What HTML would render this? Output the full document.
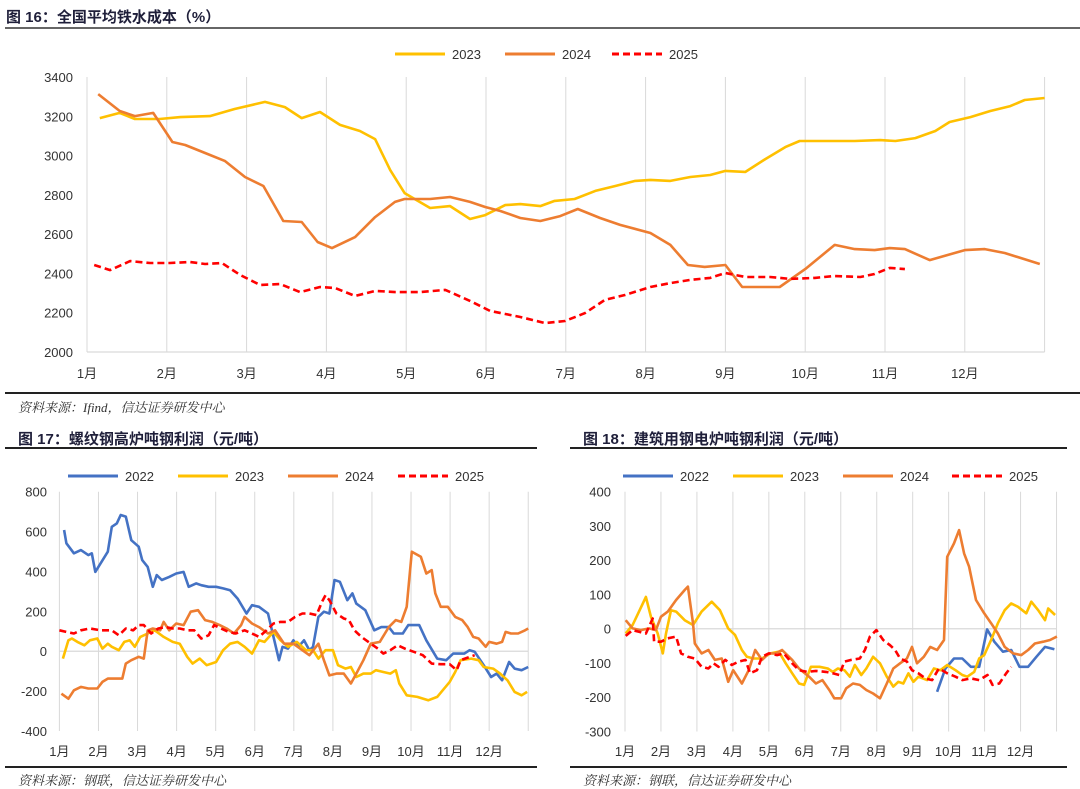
<!DOCTYPE html>
<html><head><meta charset="utf-8">
<style>
body{margin:0;width:1080px;height:787px;background:#fff;font-family:"Liberation Sans","Noto Sans CJK SC",sans-serif;overflow:hidden;position:relative}
.t{position:absolute;font-weight:bold;font-size:15px;color:#1f1f3a;white-space:nowrap}
.src{position:absolute;font-size:13px;font-style:italic;color:#333;font-family:"Liberation Serif","Noto Serif CJK SC",serif;white-space:nowrap}
.hl{position:absolute;height:2px}
svg{position:absolute;left:0;top:0}
</style></head><body>
<div class="t" style="left:6px;top:6px">图 16：全国平均铁水成本（%）</div>
<div class="hl" style="left:5px;top:27px;width:1075px;background:#666"></div>
<div class="hl" style="left:5px;top:392px;width:1075px;background:#222"></div>
<div class="src" style="left:18px;top:397px">资料来源：Ifind，信达证券研发中心</div>

<div class="t" style="left:18px;top:428px">图 17：螺纹钢高炉吨钢利润（元/吨）</div>
<div class="hl" style="left:5px;top:447px;width:532px;background:#222"></div>
<div class="hl" style="left:5px;top:766px;width:532px;background:#222"></div>
<div class="src" style="left:18px;top:770px">资料来源：钢联，信达证券研发中心</div>

<div class="t" style="left:583px;top:428px">图 18：建筑用钢电炉吨钢利润（元/吨）</div>
<div class="hl" style="left:570px;top:447px;width:497px;background:#222"></div>
<div class="hl" style="left:570px;top:766px;width:497px;background:#222"></div>
<div class="src" style="left:583px;top:770px">资料来源：钢联，信达证券研发中心</div>

<svg id="svg" width="1080" height="787"></svg>
<script>
const monthLabels=["1月","2月","3月","4月","5月","6月","7月","8月","9月","10月","11月","12月"];
// Chart 16
const c1Ticks=[2000,2200,2400,2600,2800,3000,3200,3400];
const c1_t2023=[0.16,0.41,0.60,0.91,1.17,1.54,1.85,2.23,2.48,2.69,2.92,3.17,3.42,3.61,3.80,3.98,4.30,4.55,4.80,4.99,5.24,5.43,5.68,5.86,6.11,6.37,6.62,6.87,7.06,7.31,7.56,7.81,8.00,8.25,8.50,8.75,8.93,9.31,9.62,9.94,10.13,10.38,10.63,10.81,11.07,11.32,11.57,11.75,12.0];
const c1_v2023=[3191,3217,3186,3186,3196,3201,3237,3273,3247,3191,3222,3156,3125,3084,2926,2809,2733,2743,2677,2697,2748,2753,2743,2769,2779,2820,2845,2871,2876,2871,2891,2901,2922,2917,2982,3043,3074,3074,3074,3079,3074,3089,3125,3171,3196,3227,3252,3283,3293];
const c1_t2024=[0.14,0.41,0.60,0.83,1.07,1.23,1.48,1.73,1.98,2.21,2.46,2.69,2.89,3.07,3.36,3.61,3.86,3.98,4.30,4.55,4.80,4.99,5.18,5.43,5.68,5.93,6.15,6.43,6.68,7.06,7.31,7.53,7.74,8.00,8.21,8.46,8.68,9.00,9.37,9.62,9.87,10.06,10.25,10.56,11.00,11.25,11.50,11.94];
const c1_v2024=[3313,3227,3201,3217,3069,3054,3013,2972,2891,2845,2667,2662,2560,2529,2585,2687,2764,2779,2779,2789,2764,2738,2718,2682,2667,2692,2728,2682,2647,2606,2545,2443,2433,2443,2331,2331,2331,2422,2545,2524,2519,2529,2524,2468,2519,2524,2504,2448];
const c1_t2025=[0.09,0.29,0.54,0.79,1.04,1.29,1.48,1.69,1.92,2.17,2.42,2.67,2.92,3.11,3.36,3.61,3.86,4.17,4.49,4.80,5.05,5.43,5.74,5.99,6.24,6.49,6.74,7.06,7.31,7.56,7.81,8.00,8.25,8.56,8.81,9.12,9.37,9.69,9.87,10.06,10.25];
const c1_v2025=[2443,2417,2463,2453,2453,2458,2448,2453,2392,2341,2346,2305,2331,2326,2285,2311,2305,2305,2316,2260,2209,2178,2147,2158,2198,2265,2290,2331,2351,2367,2377,2402,2382,2382,2372,2377,2387,2382,2397,2428,2422];
// Chart 17
const c2Ticks=[-400,-200,0,200,400,600,800];
const c2_t2022=[0.12,0.18,0.37,0.55,0.74,0.83,0.92,1.24,1.34,1.47,1.57,1.70,1.84,2.03,2.12,2.26,2.39,2.49,2.62,2.81,2.99,3.18,3.31,3.50,3.63,3.82,4.01,4.19,4.37,4.56,4.79,4.93,5.11,5.34,5.48,5.62,5.71,5.85,5.99,6.12,6.26,6.40,6.49,6.63,6.77,6.91,7.04,7.18,7.37,7.50,7.60,7.83,8.06,8.24,8.43,8.56,8.79,8.93,9.21,9.39,9.67,9.90,10.08,10.36,10.50,10.63,10.86,11.05,11.19,11.33,11.51,11.65,11.83,12.0];
const c2_v2022=[608,541,491,507,482,491,398,499,624,641,683,675,557,524,457,423,323,382,357,373,390,398,323,340,331,323,323,315,306,264,189,231,223,189,72,-45,22,13,55,22,55,5,22,172,198,189,357,348,256,290,239,206,105,121,121,89,89,131,131,55,-37,-45,-12,-12,5,-3,-70,-129,-112,-146,-54,-87,-95,-79];
const c2_t2023=[0.09,0.23,0.32,0.46,0.64,0.78,0.97,1.10,1.24,1.34,1.52,1.66,1.80,1.93,2.07,2.26,2.44,2.67,2.90,3.08,3.27,3.41,3.59,3.77,4.01,4.19,4.37,4.56,4.74,4.93,5.11,5.25,5.48,5.66,5.85,6.08,6.31,6.49,6.63,6.81,7.00,7.13,7.32,7.46,7.60,7.78,7.97,8.10,8.29,8.47,8.61,8.70,8.89,9.16,9.44,9.67,9.81,9.99,10.13,10.27,10.54,10.73,10.86,11.10,11.28,11.47,11.65,11.83,11.97];
const c2_v2023=[-37,55,64,47,30,55,64,13,38,22,5,47,55,22,72,89,105,72,47,38,-28,-62,-37,-70,-54,5,38,47,22,-12,55,47,97,55,22,47,5,5,-37,5,5,-70,-87,-79,-129,-112,-112,-95,-104,-112,-95,-162,-221,-229,-246,-229,-196,-154,-104,-45,-37,-45,-79,-87,-112,-146,-204,-221,-204];
const c2_t2024=[0.05,0.23,0.37,0.55,0.74,0.97,1.10,1.24,1.61,1.70,1.84,2.03,2.16,2.26,2.39,2.58,2.67,2.81,2.99,3.18,3.36,3.55,3.73,3.91,4.10,4.28,4.47,4.65,4.74,4.93,5.11,5.34,5.52,5.75,5.99,6.22,6.40,6.63,6.77,6.91,7.09,7.28,7.46,7.60,7.78,7.97,8.20,8.33,8.43,8.61,8.75,8.89,9.02,9.25,9.39,9.53,9.62,9.76,9.94,10.13,10.31,10.45,10.59,10.73,10.91,11.00,11.19,11.33,11.42,11.56,11.74,11.92,12.0];
const c2_v2024=[-213,-238,-196,-179,-187,-187,-154,-137,-137,-62,-45,-28,-37,105,114,105,147,105,139,131,198,206,156,147,131,114,89,131,172,139,121,89,105,38,38,5,-20,38,-45,-121,-112,-112,-162,-112,-45,38,47,89,121,156,147,223,499,474,390,407,290,223,223,172,156,121,72,64,22,47,38,47,97,89,89,105,114];
const c2_t2025=[0,0.18,0.37,0.55,0.78,1.06,1.34,1.52,1.70,1.89,2.03,2.16,2.35,2.53,2.72,2.90,3.08,3.27,3.45,3.63,3.82,3.96,4.14,4.33,4.51,4.74,4.93,5.11,5.30,5.48,5.66,5.85,6.03,6.22,6.40,6.58,6.72,6.81,6.91,7.00,7.09,7.28,7.41,7.55,7.73,7.97,8.15,8.29,8.47,8.66,8.84,9.07,9.30,9.53,9.76,9.99,10.17,10.27,10.45,10.63];
const c2_v2025=[105,97,89,105,114,105,105,80,114,105,131,131,89,114,121,114,114,105,105,64,80,131,114,97,89,105,89,72,105,139,147,147,172,189,189,181,248,281,256,223,189,164,156,105,72,38,13,-12,5,30,13,-3,-20,-62,-65,-65,-95,-45,-32,-20];
// Chart 18
const c3Ticks=[-300,-200,-100,0,100,200,300,400];
const c3_t2022=[8.68,8.91,9.15,9.38,9.62,9.85,10.07,10.27,10.51,10.74,10.97,11.21,11.44,11.68,11.94];
const c3_v2022=[-184,-116,-87,-87,-111,-111,-2,-38,-67,-62,-111,-111,-82,-53,-60];
const c3_t2023=[0.02,0.21,0.39,0.58,0.72,0.91,1.05,1.14,1.28,1.42,1.66,1.89,2.13,2.41,2.64,2.87,3.06,3.25,3.39,3.58,3.81,4.04,4.28,4.47,4.65,4.84,4.98,5.17,5.41,5.64,5.78,5.92,6.10,6.25,6.39,6.57,6.71,6.90,7.09,7.28,7.46,7.60,7.74,7.88,8.02,8.16,8.40,8.59,8.77,8.96,9.19,9.38,9.52,9.71,9.85,9.99,10.18,10.37,10.56,10.74,10.93,11.16,11.30,11.49,11.68,11.77,11.96];
const c3_v2023=[-14,11,50,93,35,-14,-72,-14,54,50,25,11,50,79,54,1,-18,-62,-82,-87,-87,-72,-67,-101,-130,-160,-164,-111,-111,-116,-126,-116,-121,-140,-106,-135,-116,-82,-101,-140,-169,-155,-160,-130,-155,-140,-150,-116,-121,-106,-121,-135,-140,-126,-87,-77,-33,16,54,74,64,45,79,54,25,59,40];
const c3_t2024=[0.02,0.21,0.44,0.67,0.86,1.00,1.19,1.42,1.66,1.75,1.89,1.94,2.13,2.32,2.50,2.69,2.87,3.01,3.25,3.44,3.62,3.81,4.00,4.19,4.37,4.65,4.84,5.12,5.31,5.49,5.68,5.82,6.01,6.15,6.34,6.53,6.71,6.90,7.09,7.28,7.46,7.65,7.84,7.98,8.12,8.31,8.49,8.68,8.87,8.96,9.15,9.29,9.43,9.57,9.76,9.99,10.18,10.37,10.56,10.79,11.02,11.21,11.40,11.63,11.82,12.01];
const c3_v2024=[25,1,-4,1,-4,35,50,84,113,123,16,-43,-72,-62,-91,-87,-155,-121,-160,-121,-62,-91,-72,-72,-62,-91,-116,-140,-160,-150,-179,-203,-203,-174,-160,-164,-179,-189,-203,-160,-116,-101,-87,-53,-101,-82,-53,-62,-33,210,249,288,220,181,84,45,16,-14,-53,-72,-77,-62,-43,-38,-33,-23];
const c3_t2025=[0.02,0.21,0.39,0.58,0.77,0.81,1.00,1.19,1.42,1.56,1.75,1.94,2.13,2.32,2.46,2.60,2.79,2.97,3.16,3.35,3.48,3.67,3.81,4.00,4.23,4.42,4.65,4.84,5.07,5.31,5.59,5.78,5.96,6.10,6.29,6.53,6.67,6.81,6.99,7.18,7.37,7.51,7.65,7.84,7.98,8.16,8.35,8.54,8.73,8.96,9.19,9.38,9.62,9.85,10.08,10.22,10.41,10.60,10.74];
const c3_v2025=[-21,-4,-9,-14,30,-38,-38,-28,-23,-72,-82,-87,-111,-116,-101,-111,-91,-106,-96,-91,-130,-121,-82,-72,-77,-72,-101,-121,-126,-123,-126,-130,-135,-96,-91,-87,-62,-23,-4,-33,-48,-62,-87,-96,-121,-130,-145,-150,-116,-130,-140,-150,-145,-150,-135,-164,-160,-130,-111];

const NS="http://www.w3.org/2000/svg";
const svg=document.getElementById('svg');
const COL={"2022":"#4472C4","2023":"#FFC000","2024":"#ED7D31","2025":"#FF0000"};
function mk(tag,attrs){const e=document.createElementNS(NS,tag);for(const k in attrs)e.setAttribute(k,attrs[k]);svg.appendChild(e);return e;}
function chart(cfg){
  const xs=m=>cfg.x0+m*cfg.mstep;
  const ys=v=>cfg.yTop+(cfg.vMax-v)/(cfg.vMax-cfg.vMin)*(cfg.yBot-cfg.yTop);
  for(let i=0;i<=12;i++){
    const g=mk('line',{x1:xs(i),x2:xs(i),y1:cfg.yTop,y2:cfg.yBot,stroke:'#d9d9d9','stroke-width':1});
    
    
  }
  const base=cfg.vMin<0?0:cfg.vMin;
  const ax=mk('line',{x1:xs(0),x2:xs(12),y1:ys(base),y2:ys(base),stroke:'#d9d9d9','stroke-width':1.2});
  
  
  cfg.ticks.forEach(v=>{
    const t=mk('text',{x:cfg.tickX,y:ys(v)+5,'text-anchor':'end','font-size':13,fill:'#333','font-family':'Liberation Sans, sans-serif'});
    t.textContent=v;
    
    
  });
  monthLabels.forEach((l,i)=>{
    const t=mk('text',{x:xs(i),y:cfg.labelY,'text-anchor':'middle','font-size':13,fill:'#333','font-family':'Liberation Sans, Noto Sans CJK SC, sans-serif'});
    t.textContent=l;
    
    
  });
  cfg.series.forEach(s=>{
    const d=s.t.map((m,i)=>(i?'L':'M')+xs(m).toFixed(1)+','+ys(s.v[i]).toFixed(1)).join('');
    const p=mk('path',{d:d,fill:'none',stroke:COL[s.name],'stroke-width':2.6,'stroke-linejoin':'round'});
    if(s.name==='2025')p.setAttribute('stroke-dasharray','7,4');
    
    
  });
  cfg.legend.forEach(L=>{
    const l=mk('line',{x1:L[1],x2:L[1]+50,y1:cfg.legY,y2:cfg.legY,stroke:COL[L[0]],'stroke-width':3});
    if(L[0]==='2025')l.setAttribute('stroke-dasharray','7,4');
    
    
    const t=mk('text',{x:L[1]+57,y:cfg.legY+5,'font-size':13,fill:'#333','font-family':'Liberation Sans, sans-serif'});
    t.textContent=L[0];
    
    
  });
}
chart({id:'chart16',x0:87,mstep:79.8,yTop:77,yBot:352,vMin:2000,vMax:3400,ticks:c1Ticks,tickX:73,labelY:378,legY:54,
  legend:[["2023",395],["2024",505],["2025",612]],
  series:[{name:'2023',t:c1_t2023,v:c1_v2023},{name:'2024',t:c1_t2024,v:c1_v2024},{name:'2025',t:c1_t2025,v:c1_v2025}]});
chart({id:'chart17',x0:59.4,mstep:39.07,yTop:491.7,yBot:731,vMin:-400,vMax:800,ticks:c2Ticks,tickX:47,labelY:756,legY:476,
  legend:[["2022",68],["2023",178],["2024",288],["2025",398]],
  series:[{name:'2022',t:c2_t2022,v:c2_v2022},{name:'2023',t:c2_t2023,v:c2_v2023},{name:'2024',t:c2_t2024,v:c2_v2024},{name:'2025',t:c2_t2025,v:c2_v2025}]});
chart({id:'chart18',x0:625,mstep:35.96,yTop:491.7,yBot:731.5,vMin:-300,vMax:400,ticks:c3Ticks,tickX:611,labelY:756,legY:476,
  legend:[["2022",623],["2023",733],["2024",843],["2025",952]],
  series:[{name:'2022',t:c3_t2022,v:c3_v2022},{name:'2023',t:c3_t2023,v:c3_v2023},{name:'2024',t:c3_t2024,v:c3_v2024},{name:'2025',t:c3_t2025,v:c3_v2025}]});
</script>
</body></html>
